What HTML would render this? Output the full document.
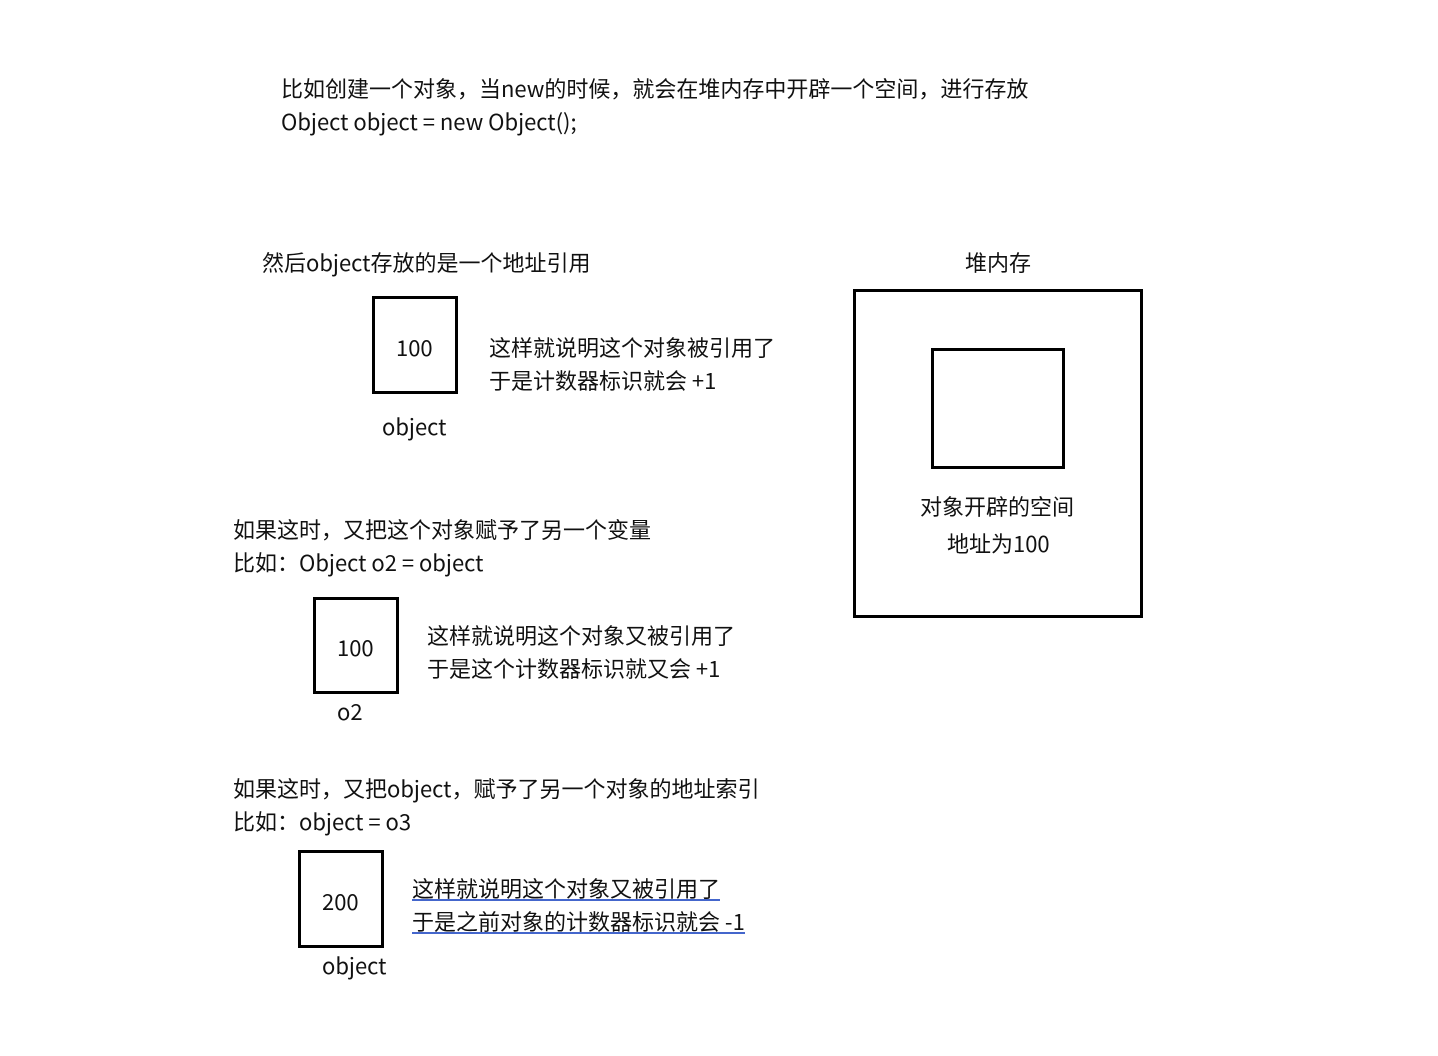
<!DOCTYPE html>
<html><head><meta charset="utf-8"><style>
body{margin:0;width:1438px;height:1056px;background:#fff;position:relative;overflow:hidden;font-family:"Noto Sans CJK SC","Liberation Sans",sans-serif;font-size:22px;color:#111}
.t{position:absolute;line-height:24px;white-space:nowrap}
.b{position:absolute;border:3px solid #000;box-sizing:border-box}
.u{border-bottom:2px solid #4466cc;display:inline-block;line-height:22px}
</style></head><body>
<div class="t" style="left:281px;top:76px">比如创建一个对象，当new的时候，就会在堆内存中开辟一个空间，进行存放</div>
<div class="t" style="left:281px;top:109px">Object object = new Object();</div>
<div class="t" style="left:262px;top:250px">然后object存放的是一个地址引用</div>
<div class="t" style="left:965px;top:250px">堆内存</div>
<div class="b" style="left:372px;top:296px;width:86px;height:98px"></div>
<div class="t" style="left:396px;top:335px">100</div>
<div class="t" style="left:489px;top:335px">这样就说明这个对象被引用了</div>
<div class="t" style="left:489px;top:368px">于是计数器标识就会 +1</div>
<div class="t" style="left:382px;top:414px">object</div>
<div class="b" style="left:853px;top:289px;width:290px;height:329px"></div>
<div class="b" style="left:931px;top:348px;width:134px;height:121px"></div>
<div class="t" style="left:920px;top:494px">对象开辟的空间</div>
<div class="t" style="left:947px;top:531px">地址为100</div>
<div class="t" style="left:233px;top:517px">如果这时，又把这个对象赋予了另一个变量</div>
<div class="t" style="left:233px;top:550px">比如：Object o2 = object</div>
<div class="b" style="left:313px;top:597px;width:86px;height:97px"></div>
<div class="t" style="left:337px;top:635px">100</div>
<div class="t" style="left:427px;top:623px">这样就说明这个对象又被引用了</div>
<div class="t" style="left:427px;top:656px">于是这个计数器标识就又会 +1</div>
<div class="t" style="left:337px;top:699px">o2</div>
<div class="t" style="left:233px;top:776px">如果这时，又把object，赋予了另一个对象的地址索引</div>
<div class="t" style="left:233px;top:809px">比如：object = o3</div>
<div class="b" style="left:298px;top:850px;width:86px;height:98px"></div>
<div class="t" style="left:322px;top:889px">200</div>
<div class="t" style="left:412px;top:876px"><span class="u">这样就说明这个对象又被引用了</span></div>
<div class="t" style="left:412px;top:909px"><span class="u">于是之前对象的计数器标识就会 -1</span></div>
<div class="t" style="left:322px;top:953px">object</div>
</body></html>
